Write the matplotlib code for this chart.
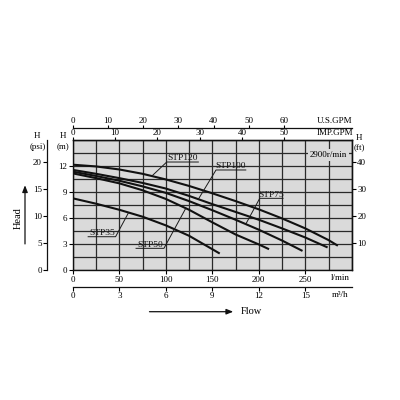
import numpy as np
import matplotlib
matplotlib.use('Agg')
import matplotlib.pyplot as plt

# ---- data (flow in l/min, head in m) ----
flow_stp120 = [0, 25, 50, 75, 100, 125, 150, 175, 200, 225, 250, 275, 285]
head_stp120 = [12.15, 11.95, 11.6, 11.1, 10.45, 9.7, 8.85, 7.95, 7.0, 5.95, 4.8, 3.45, 2.8]

flow_stp100 = [0, 25, 50, 75, 100, 125, 150, 175, 200, 225, 250, 274]
head_stp100 = [11.55, 11.1, 10.6, 10.05, 9.4, 8.55, 7.6, 6.7, 5.8, 4.8, 3.75, 2.6]

flow_stp75 = [0, 25, 50, 75, 100, 125, 150, 175, 200, 225, 247]
head_stp75 = [11.35, 10.85, 10.3, 9.65, 8.9, 7.95, 6.9, 5.8, 4.65, 3.4, 2.2]

flow_stp50 = [0, 25, 50, 75, 100, 125, 150, 175, 200, 211]
head_stp50 = [11.15, 10.6, 10.0, 9.2, 8.2, 6.95, 5.5, 4.1, 2.95, 2.4]

flow_stp35 = [0, 25, 50, 75, 100, 125, 150, 158]
head_stp35 = [8.27, 7.65, 6.95, 6.15, 5.15, 3.95, 2.4, 1.9]

names = ['STP120', 'STP100', 'STP75', 'STP50', 'STP35']
flows = [flow_stp120, flow_stp100, flow_stp75, flow_stp50, flow_stp35]
heads = [head_stp120, head_stp100, head_stp75, head_stp50, head_stp35]

lpm_ticks = [0, 50, 100, 150, 200, 250]
m_ticks = [0, 3, 6, 9, 12]
psi_ticks = [0, 5, 10, 15, 20]
ft_ticks = [10, 20, 30, 40]
usgpm_ticks = [0, 10, 20, 30, 40, 50, 60]
impgpm_ticks = [0, 10, 20, 30, 40, 50]
m3h_ticks = [0, 3, 6, 9, 12, 15]

# label layout: (underline start, underline end, underline height, target flow, leader side)
label_layout = {
    'STP120': (101, 135, 12.46, 85, 'left'),
    'STP100': (154, 186, 11.54, 135, 'left'),
    'STP75': (201, 226, 8.27, 186, 'left'),
    'STP50': (68, 98, 2.5, 121.5, 'right'),
    'STP35': (16.5, 46, 3.84, 60, 'right'),
}

plt.rcParams['font.family'] = ['Liberation Serif', 'DejaVu Serif']
FS = 6.5
BG = '#dadada'
GRID = '#2a2a2a'

fig = plt.figure(figsize=(4, 4), dpi=100)
fig.patch.set_facecolor('white')
ax = fig.add_axes([0.182, 0.325, 0.6975, 0.325])
ax.set_facecolor(BG)
ax.set_xlim(0, 300)
ax.set_ylim(0, 15)

ax.set_xticks(lpm_ticks)
ax.set_xticks(np.arange(0, 301, 25), minor=True)
ax.set_yticks(m_ticks)
ax.set_yticks(np.arange(0, 15.01, 1.5), minor=True)
ax.grid(which='both', color=GRID, lw=0.9)
ax.set_axisbelow(True)
ax.tick_params(which='major', direction='out', length=3, width=0.8, labelsize=FS, pad=1,
               top=False, right=False)
ax.tick_params(which='minor', length=0, top=False, right=False)
for s in ax.spines.values():
    s.set_linewidth(1.0)
    s.set_color('#111111')

for name, q, h in zip(names, flows, heads):
    ax.plot(q, h, color='#111111', lw=1.5, solid_capstyle='butt', zorder=3)

# labels with underline and leader
for name, q, h in zip(names, flows, heads):
    x0, x1, yu, qt, side = label_layout[name]
    ht = np.interp(qt, q, h)
    if side == 'left':
        xs, ys = [qt, x0, x1], [ht, yu, yu]
    else:
        xs, ys = [x0, x1, qt], [yu, yu, ht]
    ax.plot(xs, ys, color='#1a1a1a', lw=0.7, zorder=4, clip_on=False)
    ax.text((x0 + x1) / 2, yu + 0.18, name, fontsize=6.8, ha='center', va='baseline',
            color='#111111', zorder=5)

ax.text(275, 13.27, '2900r/min', fontsize=FS, ha='center', va='center', zorder=5,
        bbox=dict(facecolor=BG, edgecolor='none', pad=1.5))

# secondary axes
sec_psi = ax.secondary_yaxis(-0.091, functions=(lambda m: m / 0.625, lambda p: p * 0.625))
sec_psi.set_yticks(psi_ticks)
sec_psi.tick_params(labelsize=FS, length=3, width=0.8, pad=1)

sec_ft = ax.secondary_yaxis('right', functions=(lambda m: m / 0.3125, lambda f: f * 0.3125))
sec_ft.set_yticks(ft_ticks)
sec_ft.tick_params(labelsize=FS, length=3, width=0.8, pad=1)

sec_imp = ax.secondary_xaxis('top', functions=(lambda q: q / 4.546, lambda g: g * 4.546))
sec_imp.set_xticks(impgpm_ticks)
sec_imp.tick_params(labelsize=FS, length=2, width=0.8, pad=0.3)

sec_us = ax.secondary_xaxis(1.09, functions=(lambda q: q / 3.785, lambda g: g * 3.785))
sec_us.set_xticks(usgpm_ticks)
sec_us.tick_params(labelsize=FS, length=2, width=0.8, pad=0.3)

sec_m3h = ax.secondary_xaxis(-0.128, functions=(lambda q: q * 0.06, lambda c: c / 0.06))
sec_m3h.set_xticks(m3h_ticks)
sec_m3h.tick_params(labelsize=FS, length=3, width=0.8, pad=1)

for sa in (sec_psi, sec_ft, sec_imp, sec_us, sec_m3h):
    for s in sa.spines.values():
        s.set_linewidth(0.9)
        s.set_color('#111111')

# axis unit labels
T = ax.transAxes
ax.text(1.0, 1.146, 'U.S.GPM', transform=T, fontsize=FS, ha='right', va='center')
ax.text(1.005, 1.054, 'IMP.GPM', transform=T, fontsize=FS, ha='right', va='center')
ax.text(0.958, -0.062, 'l/min', transform=T, fontsize=FS, ha='center', va='center')
ax.text(0.958, -0.192, 'm³/h', transform=T, fontsize=FS, ha='center', va='center')
ax.text(-0.034, 1.03, 'H', transform=T, fontsize=FS, ha='center', va='center')
ax.text(-0.034, 0.945, '(m)', transform=T, fontsize=FS, ha='center', va='center')
ax.text(-0.127, 1.03, 'H', transform=T, fontsize=FS, ha='center', va='center')
ax.text(-0.127, 0.945, '(psi)', transform=T, fontsize=FS, ha='center', va='center')
ax.text(1.026, 1.015, 'H', transform=T, fontsize=FS, ha='center', va='center')
ax.text(1.026, 0.94, '(ft)', transform=T, fontsize=FS, ha='center', va='center')

# Flow and Head arrows
fig.add_artist(matplotlib.patches.FancyArrowPatch((146.7, 88.3), (236, 88.3),
               arrowstyle='-|>,head_length=4,head_width=1.6', lw=0.9, color='#111111',
               transform=None, mutation_scale=1))
fig.text(241 / 400, 88.3 / 400, 'Flow', fontsize=7.5, ha='left', va='center')
fig.add_artist(matplotlib.patches.FancyArrowPatch((25, 153.3), (25, 217.5),
               arrowstyle='-|>,head_length=4,head_width=1.6', lw=0.9, color='#111111',
               transform=None, mutation_scale=1))
fig.text(18.5 / 400, 181.7 / 400, 'Head', fontsize=7.5, ha='center', va='center', rotation=90)

fig.savefig('out.png', dpi=100)
